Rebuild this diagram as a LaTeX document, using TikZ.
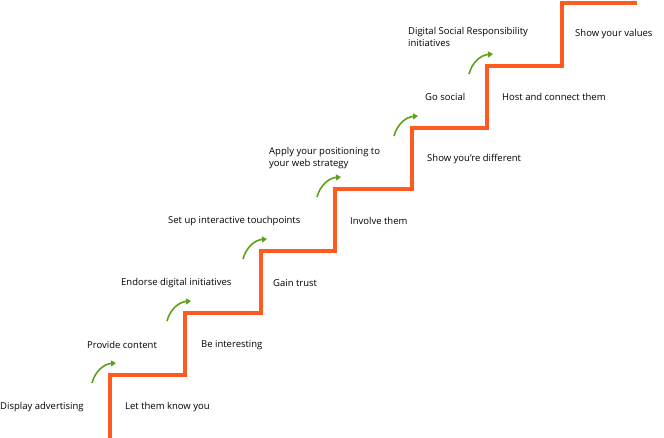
\documentclass[tikz,border=0pt]{standalone}
\usepackage{fontspec}
\setmainfont{Open Sans}
\usetikzlibrary{arrows.meta}
\definecolor{stairorange}{HTML}{FF5A1F}
\definecolor{arrowgreen}{HTML}{5FA018}
\tikzset{
  stair/.style={draw=stairorange, line width=4pt},
  up arrow/.style={draw=arrowgreen, line width=1.6pt, -{Triangle[length=5pt,width=6pt]}},
  label/.style={anchor=west, font=\fontsize{9.5}{12}\selectfont, inner sep=0pt, align=left},
}
\begin{document}
\begin{tikzpicture}[x=1pt, y=-1pt]
        \useasboundingbox (0,0) rectangle (664,438);
        \draw [stair] (110,438) -- (110,375) -- (185,375) -- (185,313) -- (261,313)
          -- (261,251) -- (335,251) -- (335,189) -- (412,189) -- (412,128)
          -- (487,128) -- (487,66) -- (562,66) -- (562,3) -- (637,3);

        \foreach \cx/\cy in {110/375, 185/313, 261/251, 335/189, 412/128, 487/66}
          \draw [up arrow] (\cx-18,\cy+8) to[bend left=35] (\cx+6,\cy-12);

        \node [label] (display) at (0,407) {Display advertising};
        \node [label] (know) at (125,407) {Let them know you};
        \node [label] (content) at (87,345) {Provide content};
        \node [label] (interest) at (201,345) {Be interesting};
        \node [label] (endorse) at (121,283) {Endorse digital initiatives};
        \node [label] (trust) at (273,283) {Gain trust};
        \node [label] (touch) at (168,221) {Set up interactive touchpoints};
        \node [label] (involve) at (350,221) {Involve them};
        \node [label] (apply) at (269,158) {Apply your positioning to\\your web strategy};
        \node [label] (different) at (427,159) {Show you're different};
        \node [label] (social) at (425,97) {Go social};
        \node [label] (host) at (502,97) {Host and connect them};
        \node [label] (dsr) at (408,37) {Digital Social Responsibility\\initiatives};
        \node [label] (values) at (575,34) {Show your values};
\end{tikzpicture}
\end{document}
